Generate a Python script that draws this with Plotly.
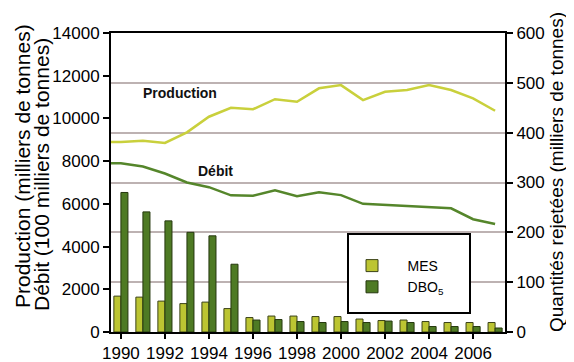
import plotly.graph_objects as go

# ---------------- data ----------------
years = list(range(1990, 2008))
production = [8900, 8950, 8850, 9350, 10080, 10500, 10430, 10900, 10780, 11410,
              11560, 10860, 11250, 11330, 11560, 11330, 10940, 10360]
debit = [7900, 7750, 7420, 7000, 6780, 6400, 6380, 6640, 6360, 6540,
         6410, 6000, 5950, 5910, 5870, 5790, 5280, 5060]
mes = [72, 70, 62, 57, 60, 47, 29, 32, 32, 31, 31, 26, 23, 24, 21, 19, 19, 19]
dbo5 = [280, 241, 223, 200, 193, 136, 24, 25, 21, 19, 21, 19, 22, 19, 11, 11, 11, 8]
xtick_vals = list(range(1990, 2007, 2))
left_ticks = list(range(0, 14001, 2000))
right_ticks = list(range(0, 601, 100))

# ---------------- style ----------------
OFF = 8                      # page body margin
W, H = 574 - OFF, 362 - OFF
ML, MT = 111 - OFF, 33 - OFF
MR = W - (505 - OFF)
MB = H - (332 - OFF)
PW, PH = W - ML - MR, H - MT - MB
X_RANGE = [1989.55, 2007.45]
FONT = "Liberation Sans"
C_MES = "#bcc532"
C_DBO = "#4e7a24"
C_PROD = "#c9d03c"
C_DEB = "#55862b"
NB = "\u00a0" * 4


def px_x(p):
    return (p - OFF - ML) / PW


def px_y(p):
    return (MT + PH - (p - OFF)) / PH


fig = go.Figure()

fig.add_trace(go.Bar(
    x=years, y=mes, name=NB + "MES", yaxis="y2",
    marker=dict(color=C_MES, line=dict(color="#3b4318", width=1)),
    legendgroup="a"))
fig.add_trace(go.Bar(
    x=years, y=dbo5, name=NB + "DBO<sub>5</sub>", yaxis="y2",
    marker=dict(color=C_DBO, line=dict(color="#26380f", width=1)),
    legendgroup="b"))

fig.add_trace(go.Scatter(
    x=[X_RANGE[0]] + years, y=[production[0]] + production, mode="lines",
    line=dict(color=C_PROD, width=2.5), showlegend=False, yaxis="y"))
fig.add_trace(go.Scatter(
    x=[X_RANGE[0]] + years, y=[debit[0]] + debit, mode="lines",
    line=dict(color=C_DEB, width=2.5), showlegend=False, yaxis="y"))

axis_common = dict(showline=True, linecolor="black", linewidth=2,
                   ticks="outside", tickwidth=2, tickcolor="black",
                   tickfont=dict(family=FONT, size=17, color="black"),
                   zeroline=False, tickformat="d", automargin=False)

fig.update_layout(
    width=W, height=H,
    margin=dict(l=ML, r=MR, t=MT, b=MB, autoexpand=False),
    paper_bgcolor="white", plot_bgcolor="white",
    font=dict(family=FONT, color="black"),
    barmode="group", bargap=0.36, bargroupgap=0,
    xaxis=dict(range=X_RANGE, tickvals=xtick_vals, showgrid=False, ticklen=5,
               mirror=True, ticklabelstandoff=0, **axis_common),
    yaxis=dict(range=[0, 14000], tickvals=left_ticks, showgrid=False, ticklen=6,
               mirror=False, **axis_common),
    yaxis2=dict(range=[0, 600], tickvals=right_ticks, overlaying="y", side="right",
                ticklen=6, showgrid=True, gridcolor="#bdb2b2", gridwidth=1.5,
                layer="below traces", **axis_common),
    legend=dict(x=px_x(352), y=px_y(250), xanchor="left", yanchor="top",
                bgcolor="rgba(0,0,0,0)", borderwidth=0,
                font=dict(family=FONT, size=14, color="black"),
                traceorder="grouped", tracegroupgap=0),
    showlegend=True,
)

# legend frame
fig.add_shape(type="rect", xref="paper", yref="paper",
              x0=px_x(348), x1=px_x(470), y0=px_y(313), y1=px_y(234),
              line=dict(color="black", width=2), fillcolor="white", layer="above")

# in-plot labels
fig.add_annotation(x=1992.7, y=11180, xref="x", yref="y", text="<b>Production</b>",
                   showarrow=False, font=dict(family=FONT, size=14, color="#111"))
fig.add_annotation(x=1994.3, y=7540, xref="x", yref="y", text="<b>Débit</b>",
                   showarrow=False, font=dict(family=FONT, size=14, color="#111"))

# axis titles
title_common = dict(xref="paper", yref="paper", textangle=-90, showarrow=False,
                    xanchor="center", yanchor="middle")
fig.add_annotation(x=px_x(22), y=px_y(166), text="Production (milliers de tonnes)",
                   font=dict(family=FONT, size=21, color="black"), **title_common)
fig.add_annotation(x=px_x(41), y=px_y(175), text="Débit (100 milliers de tonnes)",
                   font=dict(family=FONT, size=21, color="black"), **title_common)
fig.add_annotation(x=px_x(556), y=px_y(172), text="Quantités rejetées (milliers de tonnes)",
                   font=dict(family=FONT, size=19, color="black"), **title_common)

fig.write_html("out.html")
